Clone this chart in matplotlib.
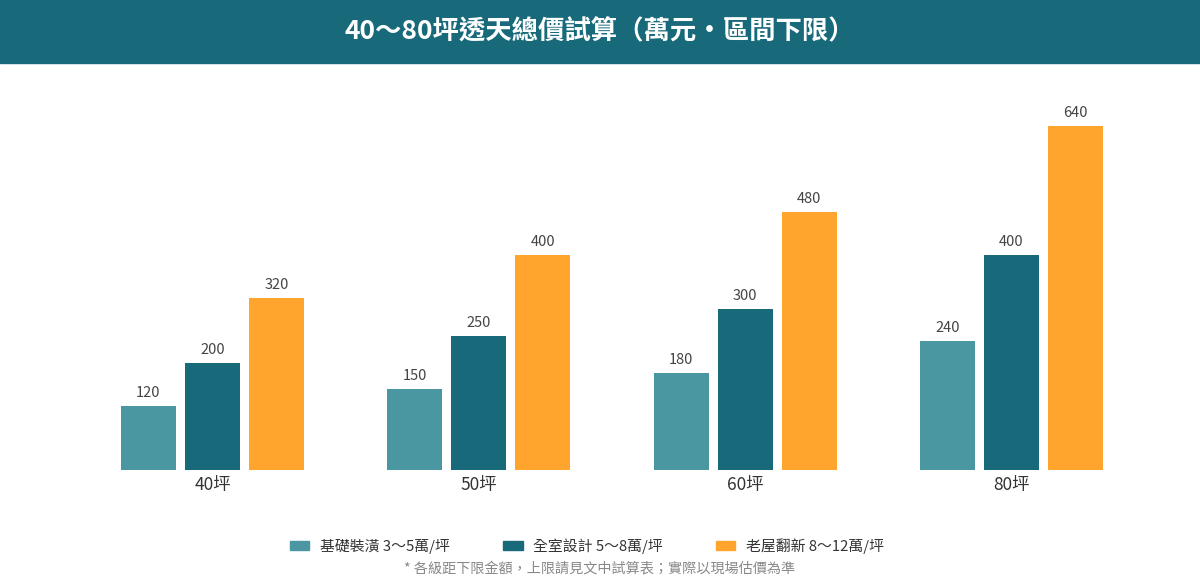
import matplotlib.pyplot as plt
import matplotlib.patches as mpatches
import numpy as np

plt.rcParams['font.family'] = ['Noto Sans CJK TC', 'DejaVu Sans']

categories = ['40坪', '50坪', '60坪', '80坪']
series_names = ['基礎裝潢 3～5萬/坪', '全室設計 5～8萬/坪', '老屋翻新 8～12萬/坪']
basic = [120, 150, 180, 240]
full = [200, 250, 300, 400]
renovate = [320, 400, 480, 640]
colors = ['#4A96A1', '#186A7B', '#FFA42C']

W, H = 1200, 580
fig = plt.figure(figsize=(W / 100, H / 100), dpi=100)

# header band
fig.patches.append(mpatches.Rectangle((0, 1 - 63 / H), 1, 63 / H,
                                      transform=fig.transFigure,
                                      color='#186A7B', zorder=0))
fig.text(0.5, 1 - 32 / H, '40～80坪透天總價試算（萬元・區間下限）',
         ha='center', va='center', color='white', fontsize=19,
         fontweight='bold')

# axes: baseline at y=470px, 0.5375 px per unit
base_px = 470
ymax = 700
top_px = base_px - ymax * 344 / 640
ax = fig.add_axes([0, 1 - base_px / H, 1, (base_px - top_px) / H])
step = 266.33
ax.set_xlim(-212.5 / step, (W - 212.5) / step)
ax.set_ylim(0, ymax)
ax.axis('off')

x = np.arange(len(categories))
w = 55 / step
off = 64 / step
for k, vals in enumerate([basic, full, renovate]):
    xs = x + (k - 1) * off
    ax.bar(xs, vals, width=w, color=colors[k], label=series_names[k])
    for xi, v in zip(xs, vals):
        ax.text(xi, v + 11, str(v), ha='center', va='bottom',
                fontsize=10.5, color='#444444')

for xi, c in zip(x, categories):
    ax.text(xi, -12, c, ha='center', va='top', fontsize=12.5,
            color='#333333')

handles = [mpatches.Patch(color=c) for c in colors]
fig.legend(handles, series_names, loc='center', ncol=3,
           bbox_to_anchor=(587 / W, 1 - 546 / H), frameon=False,
           fontsize=10.7, handlelength=1.3, handleheight=0.6,
           handletextpad=0.7, columnspacing=3.6, labelcolor='#333333')

fig.text(0.5, 1 - 569 / H, '* 各級距下限金額，上限請見文中試算表；實際以現場估價為準',
         ha='center', va='center', fontsize=10.2, color='#888888')

fig.savefig('out.png', dpi=100)
